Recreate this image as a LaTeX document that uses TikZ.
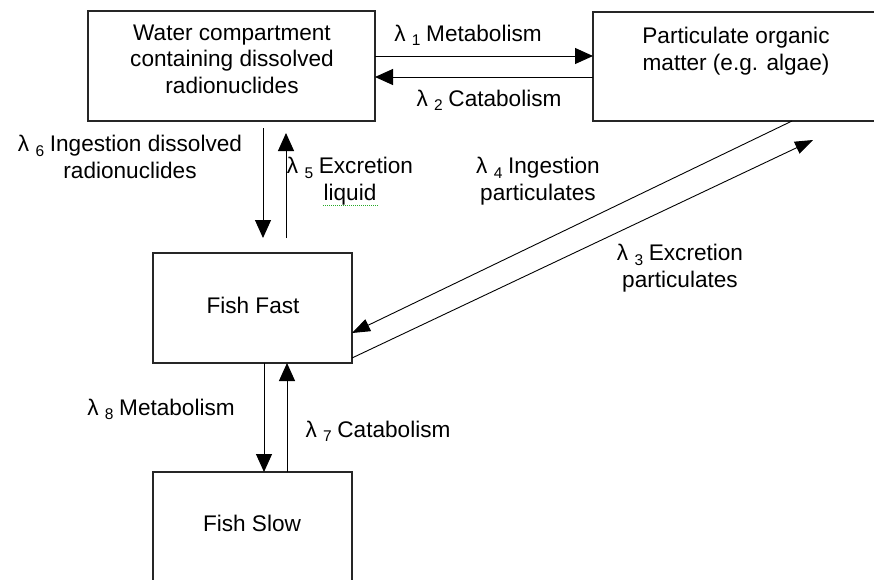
\documentclass[tikz,border=0pt]{standalone}
\usepackage{fontspec}
\setmainfont{Liberation Sans}
\usetikzlibrary{arrows.meta}
\definecolor{spell}{RGB}{40,170,40}
\newcommand\lm[1]{λ\hspace{0.28em}\raisebox{-0.22em}{\fontsize{15.5}{15.5}\selectfont #1}\hspace{0.25em}}
\begin{document}
\begin{tikzpicture}[x=1pt,y=-1pt,
  box/.style={draw=black!85,line width=1.2pt,inner sep=0pt,outer sep=0pt},
  txt/.style={align=center,inner sep=0pt,anchor=base},
  arr/.style={line width=1pt,-{Triangle[width=16pt,length=18pt]}},
  darr/.style={line width=0.9pt,-{Triangle[width=13pt,length=18pt]}},
  every node/.style={font=\fontsize{22.6}{26.5}\selectfont}]
\clip (0,0) rectangle (874,579);
% boxes
\node[box,minimum width=287pt,minimum height=110pt] (water) at (231.5,66) {};
\node[box,minimum width=287pt,minimum height=109pt] (part) at (736.5,66.5) {};
\node[box,minimum width=199pt,minimum height=110pt] (fast) at (252.5,308) {};
\node[box,minimum width=199pt,minimum height=128pt] (slow) at (252.5,536) {};
% box texts (base anchor = baseline of last line)
\node[txt] (watertxt) at (232,93) {Water compartment\\containing dissolved\\radionuclides};
\node[txt] (parttxt) at (736,70) {Particulate organic\\matter (e.g. algae)};
\node[txt] (fasttxt) at (253,313) {Fish Fast};
\node[txt] (slowtxt) at (252,531) {Fish Slow};
% free ends
\coordinate (c6a) at (263,128);
\coordinate (c6b) at (263,238);
\coordinate (c5a) at (286,238);
\coordinate (c5b) at (286,133);
\coordinate (c3b) at (813,140);
% connectors
\draw[arr] (water.east |- 0,56) -- (part.west |- 0,56);
\draw[arr] (part.west |- 0,77) -- (water.east |- 0,77);
\draw[arr] (c6a) -- (c6b);
\draw[arr] (c5a) -- (c5b);
\draw[arr] (fast.south -| 264,0) -- (slow.north -| 264,0);
\draw[arr] (slow.north -| 287,0) -- (fast.south -| 287,0);
\draw[darr] (part.south -| 792,0) -- (fast.east |- 0,333);
\draw[darr] (fast.east |- 0,358) -- (c3b);
% labels
\node[txt] (l1) at (468,41) {\lm{1}Metabolism};
\node[txt] (l2) at (489,106) {\lm{2}Catabolism};
\node[txt] (l6) at (130,178) {\lm{6}Ingestion dissolved\\radionuclides};
\node[txt] (l5) at (350,200) {\lm{5}Excretion\\liquid};
\node[txt] (l4) at (538,200) {\lm{4}Ingestion\\particulates};
\node[txt] (l3) at (680,287) {\lm{3}Excretion\\particulates};
\node[txt] (l8) at (161,415) {\lm{8}Metabolism};
\node[txt] (l7) at (378,437) {\lm{7}Catabolism};
% spell-check underline
\draw[spell,densely dotted,line width=1pt] (323,205) -- (378,205);
\end{tikzpicture}
\end{document}
